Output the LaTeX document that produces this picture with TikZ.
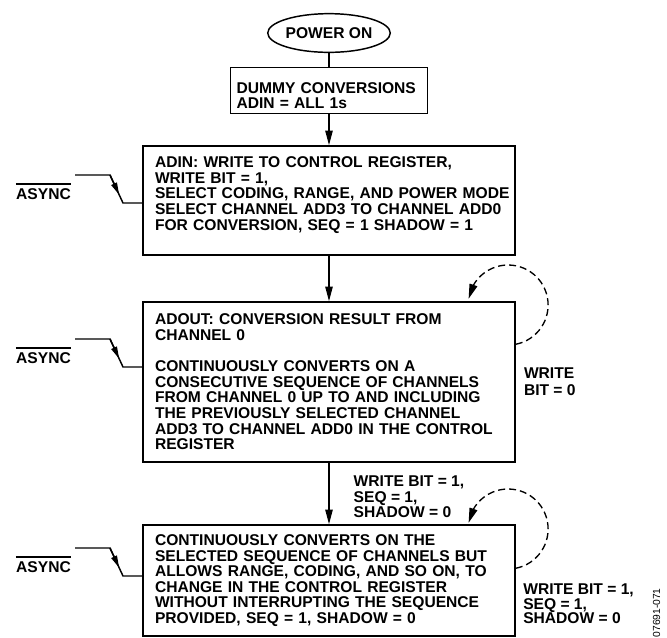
\documentclass[tikz,border=0pt]{standalone}
\usepackage{fontspec}
\setmainfont{Liberation Sans}
\usetikzlibrary{shapes.geometric, arrows.meta, positioning, calc, bending}

\begin{document}
\begin{tikzpicture}[x=0.75pt, y=-0.75pt,
  every node/.style={font=\fontsize{11.7}{11.7}\selectfont\bfseries},
  stepbox/.style={draw, line width=1.1pt, rectangle, align=left, inner xsep=9pt, text width=261pt, minimum height=#1},
  lbl/.style={inner sep=0pt, align=left},
  flow/.style={line width=1.1pt, -{Triangle[length=11pt, width=5.5pt]}},
  selfloop/.style={line width=1pt, dash pattern=on 5.25pt off 3pt, -{Triangle[length=11pt, width=6pt]}},
  sig/.style={line width=1.1pt, -{Triangle[length=9pt, width=4.5pt]}}]

\useasboundingbox (0,0) rectangle (667,637);

\node[ellipse, draw, line width=1.1pt, minimum width=90pt, minimum height=29pt, inner sep=0pt] (power) at (329,33) {POWER ON};
\node[stepbox=32.25pt, text width=138.75pt, inner xsep=4.5pt] (dummy) at (329,90.5) {\rule{0pt}{15.9pt}DUMMY CONVERSIONS\\ADIN = ALL 1s};
\node[stepbox=81.75pt] (adin) at (329,200.5) {ADIN: WRITE TO CONTROL REGISTER,\\WRITE BIT = 1,\\\mbox{SELECT CODING, RANGE, AND POWER MODE}\\SELECT CHANNEL ADD3 TO CHANNEL ADD0\\FOR CONVERSION, SEQ = 1 SHADOW = 1\rule[-10.5pt]{0pt}{10.5pt}};
\node[stepbox=120pt] (adout) at (329,382) {ADOUT: CONVERSION RESULT FROM\\CHANNEL 0\\[11.7pt]CONTINUOUSLY CONVERTS ON A\\CONSECUTIVE SEQUENCE OF CHANNELS\\FROM CHANNEL 0 UP TO AND INCLUDING\\THE PREVIOUSLY SELECTED CHANNEL\\ADD3 TO CHANNEL ADD0 IN THE CONTROL\\REGISTER};
\node[stepbox=83.25pt] (cont) at (329,580.5) {CONTINUOUSLY CONVERTS ON THE\\SELECTED SEQUENCE OF CHANNELS BUT\\ALLOWS RANGE, CODING, AND SO ON, TO\\CHANGE IN THE CONTROL REGISTER\\WITHOUT INTERRUPTING THE SEQUENCE\\PROVIDED, SEQ = 1, SHADOW = 0};

\draw[line width=1.1pt] (power) -- (dummy);
\draw[flow] (dummy) -- (adin);
\draw[flow] (adin) -- (adout);
\draw[flow] (adout) -- (cont) node[lbl, midway, anchor=west, xshift=18pt, yshift=-2.5pt] {WRITE BIT = 1,\\SEQ = 1,\\SHADOW = 0};

% self loops
\draw[selfloop] ($(adout.north east)+(0,43)$) arc[start angle=79, end angle=-171, radius=40];
\draw[selfloop] ($(cont.north east)+(0,44)$) arc[start angle=79, end angle=-171, radius=40];
\node[lbl, right=6pt of adout.east] (wb0) {WRITE\\[1pt]BIT = 0};
\node[lbl, anchor=west] (wb1) at (523,604) {WRITE BIT = 1,\\[-0.8pt]SEQ = 1,\\[-0.8pt]SHADOW = 0};

% async inputs
\foreach \b/\y in {adin/199, adout/363, cont/572}{
  \node[anchor=base, inner sep=0pt] (async-\b) at (43.5,\y) {ASYNC};
  \draw[line width=1pt] ([yshift=3pt]async-\b.north west) -- ([yshift=3pt]async-\b.north east);
  \coordinate (\b-r) at (75,\y-24);
  \coordinate (\b-s) at (110,\y-24);
  \coordinate (\b-t) at (123,\y+4);
  \draw[line width=1.1pt] (\b-r) -- (\b-s) -- (\b-t) -- (\b-t -| \b.west);
  \draw[sig] (\b-s) -- ($(\b-s)!0.7!(\b-t)$);
}

\node[rotate=90, anchor=base east, inner sep=0pt, font=\fontsize{7.7}{8}\selectfont] (fig) at (660,588) {07691-071};

\end{tikzpicture}
\end{document}
